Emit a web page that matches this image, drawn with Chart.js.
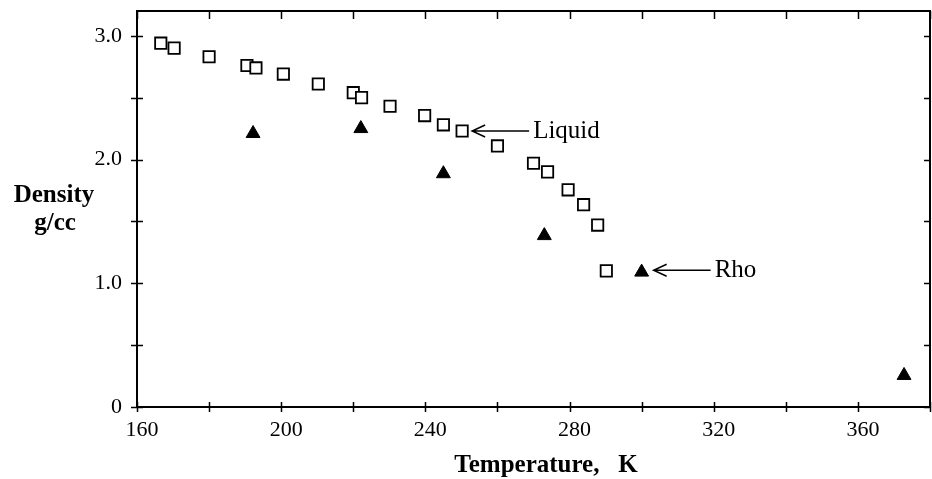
<!DOCTYPE html>
<html>
<head>
<meta charset="utf-8">
<script src="https://cdn.jsdelivr.net/npm/chart.js@4.4.0/dist/chart.umd.min.js"></script>
<style>
  html, body { margin: 0; padding: 0; background: #fff; }
  #wrap { width: 932px; height: 479px; position: relative; }
</style>
</head>
<body>
<div id="wrap"><canvas id="density-chart"></canvas></div>
<script>
// values
const liquidTemp = [166.6, 170.3, 180, 190.5, 193, 200.6, 210.3, 220, 222.3, 230.2, 239.8, 245, 250.2, 260, 270, 273.9, 279.6, 283.9, 287.8, 290.2];
const liquidDensity = [2.94, 2.90, 2.83, 2.76, 2.74, 2.69, 2.61, 2.54, 2.50, 2.43, 2.355, 2.28, 2.23, 2.11, 1.97, 1.90, 1.755, 1.635, 1.47, 1.10];
const rhoTemp = [192.2, 222.1, 245, 273, 300, 372.8];
const rhoDensity = [2.21, 2.25, 1.885, 1.385, 1.09, 0.255];

const xTickValues = [160, 180, 200, 220, 240, 260, 280, 300, 320, 340, 360, 380];
const xTickLabels = ['160', '', '200', '', '240', '', '280', '', '320', '', '360', ''];
const yTickValues = [0, 0.5, 1.0, 1.5, 2.0, 2.5, 3.0];
const yTickLabels = ['0', '', '1.0', '', '2.0', '', '3.0'];

const serif = '"Liberation Serif", "Times New Roman", serif';

const toPoints = (xs, ys) => xs.map((x, i) => ({ x: x, y: ys[i] }));

// frame, inward/crossing ticks, axis titles and the two arrow notes
const framePlugin = {
  id: 'framePlugin',
  afterDraw(chart) {
    const ctx = chart.ctx;
    const area = chart.chartArea;
    const xs = chart.scales.x;
    const ys = chart.scales.y;

    ctx.save();
    ctx.strokeStyle = '#000';
    ctx.lineWidth = 2;
    ctx.strokeRect(area.left, area.top, area.right - area.left, area.bottom - area.top);

    ctx.lineWidth = 1.5;
    ctx.beginPath();
    xTickValues.forEach((v) => {
      const px = Math.round(xs.getPixelForValue(v)) + 0.5;
      ctx.moveTo(px, area.bottom - 5);
      ctx.lineTo(px, area.bottom + 5);
      ctx.moveTo(px, area.top);
      ctx.lineTo(px, area.top + 8);
    });
    yTickValues.forEach((v) => {
      const py = Math.round(ys.getPixelForValue(v)) + 0.5;
      ctx.moveTo(area.left - 6, py);
      ctx.lineTo(area.left + 6, py);
      ctx.moveTo(area.right, py);
      ctx.lineTo(area.right - 6, py);
    });
    ctx.stroke();

    // axis titles
    ctx.fillStyle = '#000';
    ctx.font = 'bold 25px ' + serif;
    ctx.textAlign = 'center';
    ctx.textBaseline = 'middle';
    ctx.fillText('Temperature,   K', 546, 466);
    ctx.fillText('Density', 54, 196);
    ctx.fillText('g/cc', 55, 224);

    // arrow notes
    const note = (label, tx, ty, gap) => {
      const px = xs.getPixelForValue(tx) + gap;
      const py = ys.getPixelForValue(ty);
      ctx.lineWidth = 1.5;
      ctx.beginPath();
      ctx.moveTo(px + 57, py);
      ctx.lineTo(px, py);
      ctx.moveTo(px + 13, py - 6);
      ctx.lineTo(px, py);
      ctx.lineTo(px + 13, py + 6);
      ctx.stroke();
      ctx.font = '25px ' + serif;
      ctx.textAlign = 'left';
      ctx.fillText(label, px + 61, py);
    };
    note('Liquid', liquidTemp[12], liquidDensity[12], 10);
    note('Rho', rhoTemp[4], rhoDensity[4] + 0.015, 12);

    ctx.restore();
  }
};

const ctx = document.getElementById('density-chart');

const densityChart = new Chart(ctx, {
  type: 'scatter',
  data: {
    datasets: [
      {
        label: 'Liquid',
        data: toPoints(liquidTemp, liquidDensity),
        pointStyle: 'rect',
        pointRadius: 8,
        pointBackgroundColor: '#fff',
        pointBorderColor: '#000',
        pointBorderWidth: 1.8
      },
      {
        label: 'Rho',
        data: toPoints(rhoTemp, rhoDensity),
        pointStyle: 'triangle',
        pointRadius: 8,
        pointBackgroundColor: '#000',
        pointBorderColor: '#000',
        pointBorderWidth: 1
      }
    ]
  },
  options: {
    responsive: true,
    maintainAspectRatio: false,
    animation: false,
    devicePixelRatio: 1,
    layout: { autoPadding: false, padding: { top: 11, right: 2, left: 0, bottom: 0 } },
    plugins: {
      legend: { display: false },
      tooltip: { enabled: false }
    },
    scales: {
      x: {
        type: 'linear',
        min: 160,
        max: 380,
        grid: { display: false, drawTicks: false },
        border: { display: false },
        afterBuildTicks: (scale) => {
          scale.ticks = xTickValues.map((v) => ({ value: v }));
        },
        afterFit: (scale) => {
          scale.height = 72;
          scale.paddingLeft = 0;
          scale.paddingRight = 0;
        },
        ticks: {
          padding: 10,
          labelOffset: 5,
          color: '#000',
          font: { family: serif, size: 22 },
          maxRotation: 0,
          autoSkip: false,
          callback: (v) => {
            const i = xTickValues.indexOf(v);
            return i >= 0 ? xTickLabels[i] : '';
          }
        }
      },
      y: {
        type: 'linear',
        min: 0,
        max: 3.2,
        grid: { display: false, drawTicks: false },
        border: { display: false },
        afterBuildTicks: (scale) => {
          scale.ticks = yTickValues.map((v) => ({ value: v }));
        },
        afterFit: (scale) => {
          scale.width = 137;
          scale.paddingTop = 0;
          scale.paddingBottom = 0;
        },
        ticks: {
          padding: 15,
          color: '#000',
          font: { family: serif, size: 22 },
          autoSkip: false,
          callback: (v) => {
            const i = yTickValues.indexOf(v);
            return i >= 0 ? yTickLabels[i] : '';
          }
        }
      }
    }
  },
  plugins: [framePlugin]
});
</script>
</body>
</html>
